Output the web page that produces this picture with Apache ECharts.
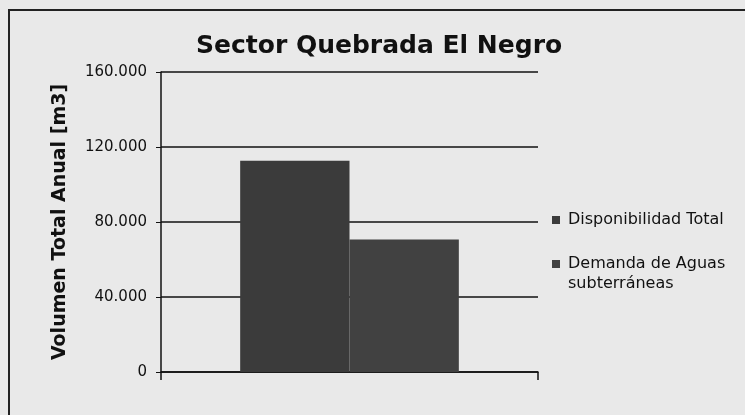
<!DOCTYPE html>
<html>
<head>
<meta charset="utf-8">
<script src="https://cdn.jsdelivr.net/npm/echarts@6/dist/echarts.min.js"></script>
<style>
  html, body { margin: 0; padding: 0; background: #e9e9e9; }
  #chart { width: 745px; height: 415px; }
</style>
</head>
<body>
<div id="chart"></div>
<script>
const categories = ['Sector Quebrada El Negro'];
const disponibilidad = [112700];
const demanda = [70700];
const yTicks = { min: 0, max: 160000, interval: 40000 };

function formatMiles(v) {
  return String(v).replace(/\B(?=(\d{3})+(?!\d))/g, '.');
}

const chart = echarts.init(document.getElementById('chart'));
const font = 'DejaVu Sans, Verdana, sans-serif';

chart.setOption({
  backgroundColor: '#e9e9e9',
  animation: false,
  textStyle: { fontFamily: font },
  graphic: [{
    type: 'rect',
    shape: { x: 9, y: 10, width: 760, height: 420 },
    style: { fill: 'none', stroke: '#222', lineWidth: 2 },
  }],
  title: {
    text: 'Sector Quebrada El Negro',
    left: 191,
    top: 29,
    textStyle: { fontFamily: font, fontSize: 25, fontWeight: 'bold', color: '#111' },
  },
  legend: {
    orient: 'vertical',
    left: 547,
    top: 205,
    itemWidth: 8,
    itemHeight: 8,
    itemGap: 4,
    icon: 'rect',
    textStyle: { fontFamily: font, fontSize: 16, lineHeight: 20, color: '#111', padding: [0, 0, 0, 3] },
    // línea vacía al inicio para que el marcador quede a la altura de la primera línea
    formatter: (name) => name.indexOf('Aguas ') >= 0 ? '\n' + name.replace('Aguas ', 'Aguas\n') : name,
    data: ['Disponibilidad Total', 'Demanda de Aguas subterráneas'],
  },
  grid: { left: 161, right: 207, top: 72, bottom: 43 },
  xAxis: {
    type: 'category',
    data: categories,
    axisLine: { lineStyle: { color: '#111', width: 1.5 } },
    axisTick: { show: true, length: 8, lineStyle: { color: '#111', width: 1.5 } },
    axisLabel: { show: false },
  },
  yAxis: {
    type: 'value',
    min: yTicks.min,
    max: yTicks.max,
    interval: yTicks.interval,
    name: 'Volumen Total Anual [m3]',
    nameLocation: 'middle',
    nameGap: 91,
    nameTextStyle: { fontFamily: font, fontSize: 19, fontWeight: 'bold', color: '#111' },
    axisLine: { show: true, lineStyle: { color: '#111', width: 1.5 } },
    axisTick: { show: true, length: 5, lineStyle: { color: '#111' } },
    axisLabel: {
      margin: 14,
      fontFamily: font,
      fontSize: 15,
      color: '#111',
      formatter: formatMiles,
    },
    splitLine: { lineStyle: { color: '#111', width: 1.5 } },
  },
  series: [
    {
      name: 'Disponibilidad Total',
      type: 'bar',
      data: disponibilidad,
      barGap: '0%',
      barCategoryGap: '42%',
      itemStyle: { color: '#3b3b3b' },
    },
    {
      name: 'Demanda de Aguas subterráneas',
      type: 'bar',
      data: demanda,
      itemStyle: { color: '#414141' },
    },
  ],
});
</script>
</body>
</html>
